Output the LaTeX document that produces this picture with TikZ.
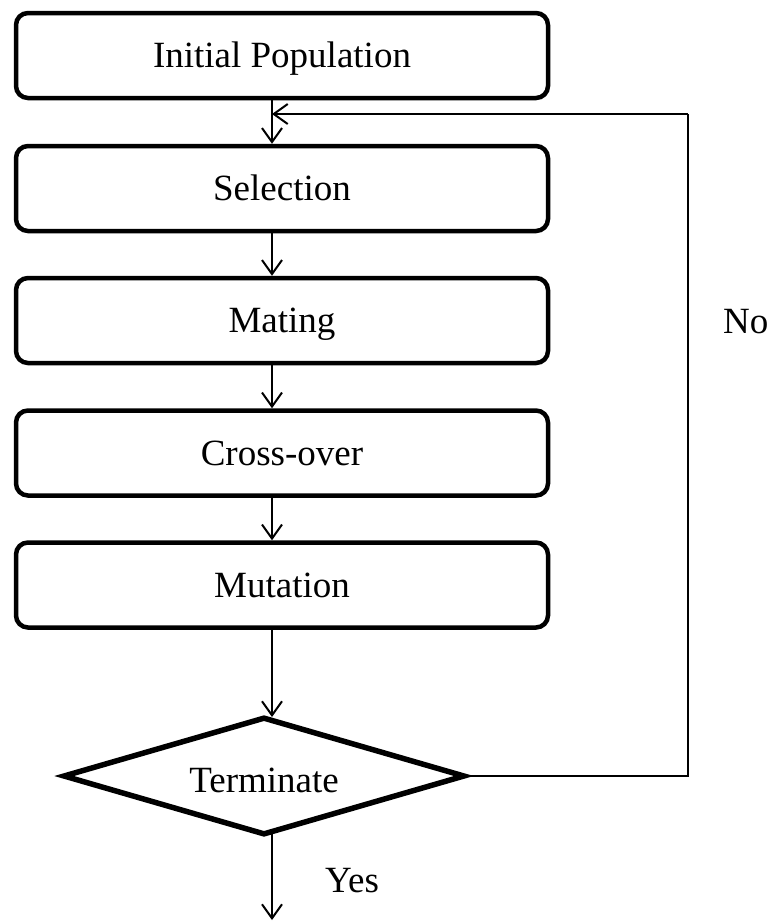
\documentclass[tikz,border=0pt]{standalone}
\usepackage{fontspec}
\setmainfont{Liberation Serif}
\usetikzlibrary{shapes.geometric,arrows.meta}
\begin{document}
\begin{tikzpicture}[x=1pt,y=-1pt,
  every node/.style={font=\fontsize{37}{44}\selectfont},
  caps/.style={text height=24.5pt, text depth=0pt},
  stepbox/.style={draw, caps, line width=4.5pt, rounded corners=12pt,
    minimum width=532pt, minimum height=85pt, inner sep=0pt},
  decision/.style={draw, diamond, line width=5.5pt,
    minimum width=402pt, minimum height=118pt, inner sep=0pt},
  flow/.style={line width=2pt, -{Straight Barb[length=14pt,width=20pt,line width=2pt]}},
  link/.style={line width=2pt}]
  \useasboundingbox (0,0) rectangle (771,922);

  % process steps
  \node[stepbox] (init) at (282,55.5) {Initial Population};
  \node[stepbox] (sel)  at (282,188.5) {Selection};
  \node[stepbox] (mate) at (282,320.5) {Mating};
  \node[stepbox] (cross) at (282,453) {Cross-over};
  \node[stepbox] (mut)  at (282,585) {Mutation};

  % termination test
  \node[decision] (term) at (264,776) {};
  \node[caps, inner sep=0pt] (termtxt) at (264,780) {Terminate};

  % helper points for the flow lines
  \coordinate (ax) at (272,0);
  \coordinate (loopin) at (272,114);
  \coordinate (loopcorner) at (688,114);
  \coordinate (loopbottom) at (688,776);
  \coordinate (exit) at (272,920);

  % main flow
  \draw[flow] (init.south -| ax) -- (sel.north -| ax);
  \draw[flow] (sel.south -| ax) -- (mate.north -| ax);
  \draw[flow] (mate.south -| ax) -- (cross.north -| ax);
  \draw[flow] (cross.south -| ax) -- (mut.north -| ax);
  \draw[flow] (mut.south -| ax) -- (272,717);
  \draw[flow] (272,833) -- (exit);

  % loop back when not terminated
  \draw[link] (term.east) -- (loopbottom) -- (loopcorner);
  \draw[flow] (loopcorner) -- (loopin);

  % branch labels
  \node[caps, anchor=west, inner sep=0pt] (yes) at (325,880.5) {Yes};
  \node[caps, anchor=west, inner sep=0pt] (no) at (723,321.5) {No};
\end{tikzpicture}
\end{document}
